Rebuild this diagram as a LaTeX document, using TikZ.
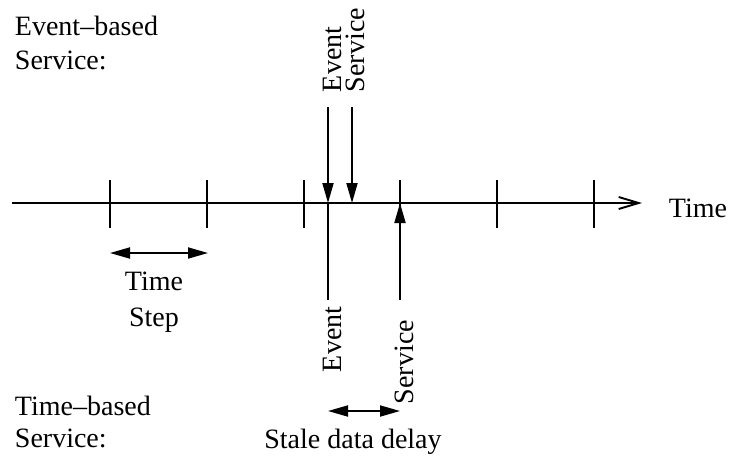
\documentclass[tikz,border=0pt]{standalone}
\usepackage{fontspec}
\setmainfont{Liberation Serif}
\usetikzlibrary{arrows.meta}

\begin{document}
\begin{tikzpicture}[x=1pt,y=-1pt,line width=1.9pt,
  tip/.style={-{Triangle[length=20pt,width=11pt]}},
  tips/.style={{Triangle[length=20pt,width=11pt]}-{Triangle[length=20pt,width=11pt]}},
  txt/.style={inner sep=0pt,font=\fontsize{28}{34}\selectfont},
  vtxt/.style={txt,rotate=90,anchor=base west}]

 \useasboundingbox (0,0) rectangle (731,456);

 % time axis with its steps
 \coordinate (origin) at (12,203);
 \coordinate (axis end) at (642,203);
 \node[txt,anchor=base west] (time) at (668,217) {Time};
 \draw[-{Straight Barb[length=20pt,width=12pt]}] (origin) -- (axis end);
 \foreach \x in {110,207,304,400,497,594}
   \draw (\x,180) -- (\x,228);

 % event-based service
 \node[txt,anchor=base west] (eb1) at (14,35) {Event–based};
 \node[txt,anchor=base west] (eb2) at (14,69) {Service:};
 \node[vtxt] (ev up) at (341,93) {Event};
 \node[vtxt] (sv up) at (364,93) {Service};
 \coordinate (ev top) at (328,107);
 \coordinate (sv top) at (352,107);
 \coordinate (ev) at (328,203);
 \coordinate (sv) at (352,203);
 \draw[tip] (ev top) -- (ev);
 \draw[tip] (sv top) -- (sv);

 % time-based service
 \node[txt,anchor=base west] (tb1) at (14,415) {Time–based};
 \node[txt,anchor=base west] (tb2) at (14,447) {Service:};
 \coordinate (ev low) at (328,300);
 \coordinate (sv low) at (400,300);
 \coordinate (sv tick) at (400,203);
 \draw (ev) -- (ev low);
 \draw[tip] (sv low) -- (sv tick);
 \node[vtxt] (ev dn) at (341,373) {Event};
 \node[vtxt] (sv dn) at (413,405) {Service};

 % time step
 \coordinate (ts a) at (110,253);
 \coordinate (ts b) at (208,253);
 \draw[tips] (ts a) -- (ts b);
 \node[txt,anchor=base] (ts1) at (154,290) {Time};
 \node[txt,anchor=base] (ts2) at (154,326) {Step};

 % stale data delay
 \coordinate (sd a) at (328,411);
 \coordinate (sd b) at (400,411);
 \draw[tips] (sd a) -- (sd b);
 \node[txt,anchor=base] (sd) at (353,448) {Stale data delay};
\end{tikzpicture}
\end{document}
